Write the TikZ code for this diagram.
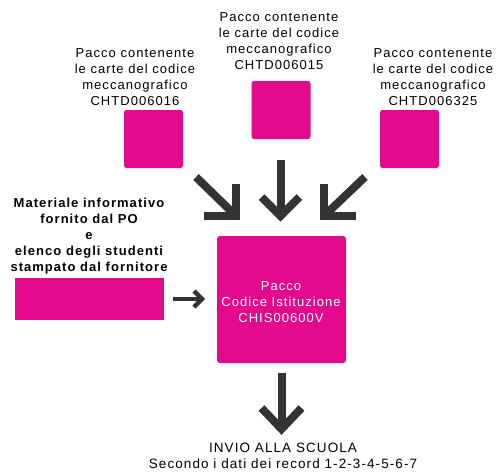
\documentclass[tikz,border=0pt]{standalone}
\usepackage{fontspec}
\setmainfont{Liberation Sans}[LetterSpace=8]
\definecolor{pk}{RGB}{227,9,140}
\definecolor{dk}{RGB}{51,51,51}
\begin{document}
\begin{tikzpicture}[x=1pt,y=-1pt,
  pbox/.style={fill=pk, draw=none, rounded corners=2.5pt, inner sep=0pt},
  lbl/.style={align=center, inner sep=0pt, anchor=base, text=black, font=\fontsize{13}{16}\selectfont},
  blbl/.style={lbl, font=\fontsize{13}{16}\selectfont\bfseries},
  heavy/.style={draw=dk, line width=8pt, line cap=butt, line join=miter},
  light/.style={draw=dk, line width=4.5pt, line cap=butt, line join=miter}]
\useasboundingbox (0,0) rectangle (497,472);
% boxes
\node[pbox, minimum width=59pt, minimum height=58pt] (b1) at (153.5,139) {};
\node[pbox, minimum width=59pt, minimum height=58pt] (b2) at (281,110) {};
\node[pbox, minimum width=59pt, minimum height=58pt] (b3) at (409.5,139) {};
\node[pbox, minimum width=129pt, minimum height=127pt, rounded corners=3pt] (main) at (281.5,299.5) {};
\node[fill=pk, inner sep=0pt, minimum width=149pt, minimum height=42pt] (wide) at (89.5,299) {};
% texts (base anchor = baseline of last line)
\node[lbl] (t1) at (135,105) {Pacco contenente\\le carte del codice\\meccanografico\\CHTD006016};
\node[lbl] (t2) at (279,69) {Pacco contenente\\le carte del codice\\meccanografico\\CHTD006015};
\node[lbl] (t3) at (433,105) {Pacco contenente\\le carte del codice\\meccanografico\\CHTD006325};
\node[blbl] (t4) at (89,271.5) {Materiale informativo\\fornito dal PO\\e\\elenco degli studenti\\stampato dal fornitore};
\node[lbl, text=white] (t5) at (281,322) {Pacco\\Codice Istituzione\\CHIS00600V};
\node[lbl, font=\fontsize{13.5}{16}\selectfont] (t6) at (283,468.5) {INVIO ALLA SCUOLA\\Secondo i dati dei record 1-2-3-4-5-6-7};
% arrows
\coordinate (aL0) at (196,177); \coordinate (aL) at (236,216);
\coordinate (aM0) at (280.5,160); \coordinate (aM) at (280.5,216);
\coordinate (aR0) at (365,177); \coordinate (aR) at (324,216);
\coordinate (aB0) at (281.5,373); \coordinate (aB) at (281.5,429);
\coordinate (aH0) at (173,299); \coordinate (aH) at (202,299);
\draw[heavy] (aL0) -- (aL);
\draw[heavy] (aL) ++(0,-32) -- (aL) -- ++(-32,0);
\draw[heavy] (aM0) -- (aM);
\draw[heavy] (aM) ++(-19,-19) -- (aM) -- ++(19,-19);
\draw[heavy] (aR0) -- (aR);
\draw[heavy] (aR) ++(0,-32) -- (aR) -- ++(32,0);
\draw[heavy] (aB0) -- (aB);
\draw[heavy] (aB) ++(-20,-21) -- (aB) -- ++(20,-21);
\draw[light] (aH0) -- (aH);
\draw[light] (aH) ++(-8,-8) -- (aH) -- ++(-8,8);
\end{tikzpicture}
\end{document}
